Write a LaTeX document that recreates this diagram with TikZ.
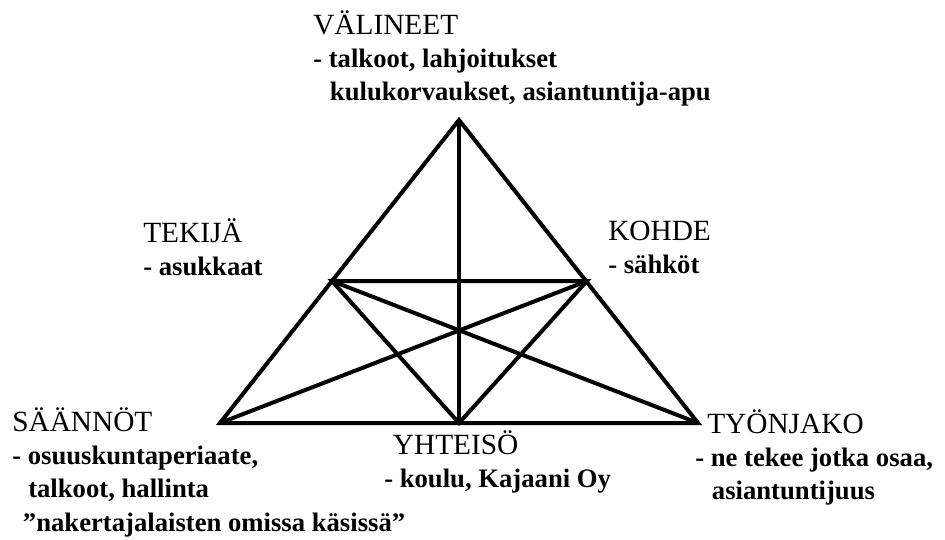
\documentclass[tikz,border=0pt]{standalone}
\usepackage{fontspec}
\setmainfont{Liberation Serif}
\usetikzlibrary{positioning}
\newcommand{\blocktext}[1]{\begin{tabular}[t]{@{}l@{}}#1\end{tabular}}
\newcommand{\headtext}[1]{{\fontsize{22}{25}\selectfont #1}}
\newcommand{\detail}[1]{\textbf{#1}}

\begin{document}
\begin{tikzpicture}[x=0.75pt, y=-0.75pt,
  edge/.style={line width=3pt},
  lbl/.style={anchor=base west, inner sep=0pt, font=\fontsize{20}{25}\selectfont}]
\useasboundingbox (0,0) rectangle (945,539);
% ---- corners and side points
\coordinate (top) at (459,120);
\coordinate (bl)  at (220,423);
\coordinate (br)  at (698,423);
\coordinate (ml)  at (332,281);
\coordinate (mr)  at (587,281);
\coordinate (mb)  at (459,423);
% ---- outer triangle and inner lines
\draw[edge] (top) -- (bl) -- (br) -- cycle;
\draw[edge] (ml) -- (mr) -- (mb) -- cycle;
\draw[edge] (top) -- (mb);
\draw[edge] (ml) -- (br);
\draw[edge] (mr) -- (bl);
% ---- labels
\node[lbl] (valineet) at (313,34) {\blocktext{\headtext{VÄLINEET}\\
  \detail{- talkoot, lahjoitukset}\\
  \hspace{12.5pt}\detail{kulukorvaukset, asiantuntija-apu}}};
\node[lbl] (tekija) at (143,242) {\blocktext{\headtext{TEKIJÄ}\\ \detail{- asukkaat}}};
\node[lbl] (kohde) at (608,240) {\blocktext{\headtext{KOHDE}\\ \detail{- sähköt}}};
\node[lbl] (saannot) at (12,431) {\blocktext{\headtext{SÄÄNNÖT}\\
  \detail{- osuuskuntaperiaate,}\\
  \hspace{12pt}\detail{talkoot, hallinta}\\
  \hspace{8pt}\detail{”nakertajalaisten omissa käsissä”}}};
\node[lbl] (yhteiso) at (384,454) {\blocktext{\hspace{6.5pt}\headtext{YHTEISÖ}\\
  \detail{- koulu, Kajaani Oy}}};
\node[lbl] (tyonjako) at (695,433) {\blocktext{\hspace{9pt}\headtext{TYÖNJAKO}\\
  \detail{- ne tekee jotka osaa,}\\
  \hspace{12.5pt}\detail{asiantuntijuus}}};
\end{tikzpicture}
\end{document}
